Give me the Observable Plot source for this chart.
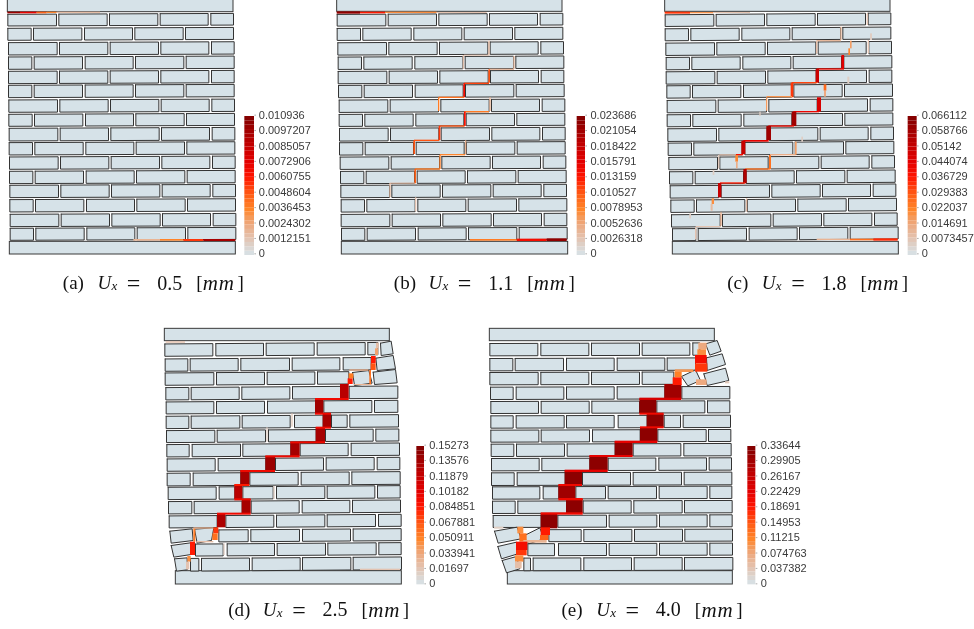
<!DOCTYPE html>
<html><head><meta charset="utf-8">
<script src="https://cdn.jsdelivr.net/npm/d3@7"></script>
<script src="https://cdn.jsdelivr.net/npm/@observablehq/plot@0.6"></script>
<style>html,body{margin:0;background:#fff}svg{display:block;filter:blur(.3px)}</style>
</head><body><div id="chart"></div>
<script>
// All wall coordinates are read in 3x crop units, relative to each panel's crop origin.
const panelNames = ["a","b","c","d","e"];
const origins = [[0,0],[330,0],[660,0],[150,320],[480,320]];
const slabs = [
  [[22,699,-3,35],[28,706,724,762]],
  [[20,696,-3,34],[34,713,724,762]],
  [[14,690,-3,34],[37,715,724,762]],
  [[43,718,25,62],[76,754,752,792]],
  [[28,703,25,62],[82,757,752,792]]
];
const topsABC = [40,82,125,168,211,253,297,340,382,425,468,511,553,596,640,682];
const botsABC = [75,118,162,205,248,290,334,376,420,462,505,548,590,633,677,718];
const topsDE = [68,113,155,199,242,285,328,370,413,456,498,541,584,627,669,712];
const botsDE = [105,150,192,236,278,322,364,407,450,494,535,578,620,663,705,750];
const oddJoints = [0,146,153,298,305,450,457,601,609,677];
const evenJoints = [0,70,77,222,230,374,381,526,533,677];
const leftA = [22,22,24,24,24,24,25,25,26,26,27,27,28,28,29,29];
const leftB = [20,20,22,23,23,24,26,26,27,27,29,30,31,32,32,33];
const leftC = [14,14,16,17,17,19,20,20,22,23,25,27,29,31,33,36];
const tilts = [-0.004,-0.005,-0.008,-0.007,-0.003];
const bricksD = [
  [43,187,196,339,347,491,500,644,652,682],
  [44,112,119,263,271,417,425,568,578,662],
  [44,190,198,342,350,493,501,595],
  [46,115,122,266,274,418,426,570,596,742],
  [47,190,198,342,351,495,520,664,672,742],
  [47,115,122,268,275,419,432,518,543,590,598,744],
  [48,193,200,345,354,497,525,668,676,745],
  [49,116,125,270,277,421,449,593,602,747],
  [50,194,203,346,375,519,527,671,680,748],
  [50,119,128,271,298,443,452,596,604,749],
  [53,197,206,253,277,368,378,523,530,673,681,749],
  [54,124,131,275,302,446,455,598,606,750],
  [56,200,226,370,378,523,530,675,684,752],
  [205,293,301,447,456,600,608,752],
  [135,218,230,372,380,525,532,677,685,752],
  [120,145,153,297,305,449,456,601,608,753]
];
const bricksE = [
  [28,172,181,325,333,477,485,628,637,658],
  [28,97,104,249,258,401,410,553,560,645],
  [28,173,181,325,333,477,485,580],
  [30,98,107,250,258,401,410,553,604,748],
  [31,174,182,326,334,477,529,673,681,748],
  [31,98,107,251,258,401,413,500,551,600,608,750],
  [31,175,182,327,336,479,532,677,684,751],
  [32,100,108,252,260,404,458,601,610,752],
  [33,176,184,328,383,526,535,678,686,753],
  [33,101,110,254,306,450,458,603,611,754],
  [36,178,188,235,286,375,383,528,536,680,688,754],
  [36,104,112,258,308,452,460,605,612,755],
  [38,182,232,378,386,529,537,680,688,755],
  [205,302,310,454,462,606,613,756],
  [142,222,234,378,386,529,537,680,688,756],
  [130,150,158,301,310,453,461,605,612,757]
];
const rotatedD = [
  [[690,68],[722,62],[728,100],[692,105]],
  [[676,113],[728,105],[735,145],[680,150]],
  [[606,156],[655,150],[665,188],[612,195]],
  [[668,155],[735,147],[740,187],[672,192]],
  [[58,632],[125,625],[128,660],[62,668]],
  [[132,626],[190,622],[183,660],[140,668]],
  [[62,675],[120,667],[122,702],[70,710]],
  [[72,715],[110,712],[110,748],[78,752]]
];
const rotatedE = [
  [[675,70],[710,60],[722,92],[688,104]],
  [[678,112],[725,100],[735,132],[680,150]],
  [[603,168],[645,148],[660,180],[622,196]],
  [[670,160],[735,143],[745,180],[680,195]],
  [[42,632],[110,620],[122,655],[53,668]],
  [[128,647],[178,622],[190,655],[145,670]],
  [[52,678],[108,665],[112,700],[63,715]],
  [[65,720],[108,708],[118,745],[78,757]]
];
// cracks: x1, x2, y1, y2, damage fraction
const cracksA = [
  [22,60,35,40,.92],[60,110,35,40,.65],[110,140,35,40,.42],[140,170,35,39,.32],[170,300,35,39,.14],
  [400,480,717,722,.18],[480,550,717,722,.33],[550,610,717,723,.5],[610,706,717,723,.88]
];
const cracksB = [
  [20,90,34,41,.95],[90,165,35,40,.55],[165,320,35,39,.3],[320,470,36,39,.12],
  [420,560,717,722,.35],[560,650,716,723,.6],[650,710,715,723,.95],
  [550,554,168,207,.15],[477,552,206,210,.15],[475,480,208,248,.45],[402,477,248,252,.48],[400,405,250,292,.6],
  [326,402,290,294,.38],[324,328,292,333,.35],[403,477,333,337,.36],[478,482,292,333,.18],
  [402,407,335,378,.58],[328,404,376,380,.45],[326,331,378,420,.5],[252,328,419,423,.45],[250,255,421,462,.45],
  [330,405,462,466,.32],[405,409,421,464,.18],[328,332,464,507,.35],[255,330,505,509,.35],[253,258,507,550,.42],
  [180,255,548,551,.15],[178,182,549,592,.15],[255,259,592,634,.12],[475,479,122,165,.15],[402,477,164,167,.12],[398,402,165,207,.12]
];
const cracksC = [
  [14,90,35,41,.5],[90,160,36,40,.28],[160,270,36,39,.12],
  [470,570,716,720,.18],[570,640,716,721,.38],[640,713,715,722,.52],
  [541,545,80,120,.16],[470,543,120,124,.16],[468,472,122,160,.14],
  [544,552,165,207,.68],[470,552,205,209,.62],[467,477,207,248,.76],[395,472,246,250,.48],[392,400,248,292,.5],
  [320,396,288,292,.28],[318,322,292,332,.26],
  [491,499,253,272,.4],[492,498,272,290,.22],[471,483,292,335,.72],[400,477,333,337,.64],[395,409,335,378,.9],
  [325,402,376,380,.62],[319,333,378,420,.9],[250,326,420,425,.66],[244,256,422,462,.78],[228,250,462,466,.6],[178,228,463,466,.14],
  [226,234,465,485,.32],[228,233,485,505,.2],[174,178,465,505,.1],
  [255,330,505,509,.38],[327,333,465,507,.38],[330,407,462,466,.2],[405,410,425,464,.25],
  [250,260,507,550,.85],[180,255,547,551,.55],[174,184,549,592,.78],
  [155,162,595,612,.3],[152,158,612,632,.15],[181,185,637,677,.2],[107,183,678,681,.12],[105,109,682,718,.12],[258,262,595,635,.14],
  [620,624,40,75,.12],[630,636,100,120,.08],[623,627,120,160,.12],[570,575,122,145,.25],[565,570,145,165,.32],
  [562,568,230,250,.08],[298,302,335,348,.08],[158,163,510,525,.08],[88,93,640,655,.08],[424,429,410,425,.08]
];
const cracksD = [
  [570,596,192,236,.82],[495,520,236,280,.9],[518,543,282,322,.88],[497,525,322,366,.88],
  [421,449,366,408,.88],[346,375,408,452,.92],[271,298,452,494,.88],[253,277,494,537,.82],[275,302,537,580,.88],[201,226,580,622,.86],
  [495,596,234,240,.62],[495,543,278,284,.62],[497,543,320,326,.62],[421,525,364,370,.62],[346,449,406,412,.62],
  [271,375,450,456,.62],[253,298,492,498,.55],[253,302,535,541,.62],[201,302,578,584,.62],
  [596,610,160,175,.35],[593,608,175,192,.55],[598,655,148,152,.2],[658,663,150,192,.38],[612,665,192,195,.18],
  [663,677,108,130,.55],[662,677,130,150,.45],[678,686,68,85,.14],[675,684,85,105,.24],
  [190,205,622,640,.5],[187,203,640,660,.38],[130,136,625,665,.35],[130,190,622,626,.18],[140,190,663,667,.14],
  [120,135,665,705,.55],[112,122,708,725,.3],[108,118,725,748,.12],
  [424,428,280,320,.1],[349,353,322,365,.08],[370,374,498,537,.08],[220,224,670,705,.08],[47,105,64,68,.14],[630,750,746,750,.12]
];
const cracksE = [
  [553,604,192,236,.9],[478,529,236,280,.96],[500,551,282,322,.96],[480,532,322,365,.96],
  [404,458,365,408,.96],[328,383,408,452,.96],[254,306,452,495,.96],[235,286,495,535,.9],[258,308,537,580,.96],[182,232,580,625,.96],
  [478,604,233,240,.72],[478,551,278,284,.62],[480,551,319,325,.62],[404,532,362,369,.66],[328,458,405,411,.66],
  [254,383,449,456,.66],[235,306,492,498,.62],[235,308,534,541,.62],[182,308,577,584,.62],
  [584,605,150,172,.34],[578,605,172,195,.55],[585,640,148,156,.28],[645,680,105,130,.6],[645,682,130,155,.5],[655,680,68,88,.22],[652,678,88,105,.3],
  [648,680,178,195,.22],[735,748,184,190,.1],
  [182,210,622,645,.55],[180,205,645,660,.42],[112,130,620,640,.3],[118,140,640,665,.38],[130,200,660,668,.18],
  [108,142,665,690,.6],[108,140,690,706,.5],[105,130,706,725,.3],[105,125,725,745,.14],[42,70,620,626,.08]
];
const maxLabels = [
 ["0.010936","0.0097207","0.0085057","0.0072906","0.0060755","0.0048604","0.0036453","0.0024302","0.0012151","0"],
 ["0.023686","0.021054","0.018422","0.015791","0.013159","0.010527","0.0078953","0.0052636","0.0026318","0"],
 ["0.066112","0.058766","0.05142","0.044074","0.036729","0.029383","0.022037","0.014691","0.0073457","0"],
 ["0.15273","0.13576","0.11879","0.10182","0.084851","0.067881","0.050911","0.033941","0.01697","0"],
 ["0.33644","0.29905","0.26167","0.22429","0.18691","0.14953","0.11215","0.074763","0.037382","0"]
];
const barX = [[733,762],[740,765],[743,770],[799,822],[802,826]];
const labelX = [775,780,784,836,841];
const barY = [[348,765],[348,765],[348,765],[378,793],[378,793]];
const labelY = [[344,760],[344,760],[344,760],[374,790],[374,790]];
const captionX = [187,190,200,233,243];
const captionY = [848,848,848,868,868];
const captionValues = ["0.5","1.1","1.8","2.5","4.0"];
const colorStops = [0,.03,.11,.22,.33,.44,.56,.67,.78,.9,1];
const colorHex = ["#d6e2e8","#d9dcdc","#e2c6b6","#eda97f","#ff8428","#ff5a14","#ff1400","#e40000","#c60000","#a00000","#800000"];
const brickFill = "#d6e2e8";

const px = (i,x)=>origins[i][0]+x/3, py=(i,y)=>origins[i][1]+y/3;
const polys=[], rects=[];
let id=0;
function addPoly(i,pts){const k=id++;[...pts,pts[0]].forEach(p=>polys.push({k,x:px(i,p[0]),y:py(i,p[1])}));}
function addBrick(i,a,b,t,u){const piv=380,s=tilts[i];const f=x=>s*(x-piv);addPoly(i,[[a,t+f(a)],[b,t+f(b)],[b,u+f(b)],[a,u+f(a)]]);}
[leftA,leftB,leftC].forEach((L,i)=>L.forEach((l,c)=>{const J=c%2?evenJoints:oddJoints;
  for(let j=0;j<J.length;j+=2)addBrick(i,l+J[j],l+J[j+1],topsABC[c],botsABC[c]);}));
[bricksD,bricksE].forEach((B,n)=>B.forEach((row,c)=>{for(let j=0;j<row.length;j+=2)addBrick(3+n,row[j],row[j+1],topsDE[c],botsDE[c]);}));
[rotatedD,rotatedE].forEach((R,n)=>R.forEach(p=>addPoly(3+n,p)));
const slabRects=[];
slabs.forEach((S,i)=>S.forEach(s=>slabRects.push({x1:px(i,s[0]),x2:px(i,s[1]),y1:py(i,s[2]),y2:py(i,s[3])})));
[cracksA,cracksB,cracksC,cracksD,cracksE].forEach((C,i)=>C.forEach(r=>rects.push({x1:px(i,r[0]),x2:px(i,r[1]),y1:py(i,r[2]),y2:py(i,r[3]),t:r[4]})));
const bands=[],labels=[],ticks=[];
barX.forEach((bx,i)=>{const n=32;const [y0,y1]=barY[i];
  for(let b=0;b<n;b++)bands.push({x1:px(i,bx[0]),x2:px(i,bx[1]),y1:py(i,y1+(y0-y1)*b/n),y2:py(i,y1+(y0-y1)*(b+1)/n),t:(b+.5)/n});
  maxLabels[i].forEach((s,k)=>{const f=k/9;labels.push({s,x:px(i,labelX[i]),y:py(i,labelY[i][0]+(labelY[i][1]-labelY[i][0])*f)});
    ticks.push({x1:px(i,bx[1]+1),x2:px(i,bx[1]+6),y:py(i,labelY[i][0]+(labelY[i][1]-labelY[i][0])*f)});});
});
const capRoman=[],capValue=[],capEq=[],capItal=[],capMm=[],capSub=[];
panelNames.forEach((n,i)=>{const X=d=>px(i,captionX[i]+d),Y=py(i,captionY[i]);
  capRoman.push({s:`(${n})`,x:X(0),y:Y},{s:"[",x:X(400),y:Y},{s:"]",x:X(524),y:Y});
  capValue.push({s:captionValues[i],x:X(283),y:Y});
  capEq.push({s:"=",x:X(192),y:Y});
  capItal.push({s:"U",x:X(104),y:Y});
  capMm.push({s:"m",x:X(420),y:Y},{s:"m",x:X(468),y:Y});
  capSub.push({s:"x",x:X(146),y:Y+3});
});
const serif="'Liberation Serif','DejaVu Serif',serif";
const capText=(data,fontSize,fontStyle)=>Plot.text(data,{x:"x",y:"y",text:"s",textAnchor:"start",fontSize,fontStyle,fill:"#111",fontFamily:serif});
const chart=Plot.plot({
  width:974,height:629,margin:0,
  x:{domain:[0,974],range:[0,974],axis:null},
  y:{domain:[0,629],range:[0,629],axis:null},
  color:{type:"linear",domain:colorStops,range:colorHex},
  marks:[
    Plot.rect(slabRects,{x1:"x1",x2:"x2",y1:"y1",y2:"y2",fill:brickFill,stroke:"#3a3a3a",strokeWidth:1}),
    Plot.line(polys,{x:"x",y:"y",z:"k",fill:brickFill,stroke:"#333",strokeWidth:1,curve:"linear"}),
    Plot.rect(rects,{x1:"x1",x2:"x2",y1:"y1",y2:"y2",fill:"t"}),
    Plot.rect(bands,{x1:"x1",x2:"x2",y1:"y1",y2:"y2",fill:"t"}),
    Plot.ruleY(ticks,{y:"y",x1:"x1",x2:"x2",stroke:"#999",strokeWidth:.8}),
    Plot.text(labels,{x:"x",y:"y",text:"s",textAnchor:"start",fontSize:11,fill:"#3a3a3a",fontFamily:"'Liberation Sans',Arial,sans-serif"}),
    capText(capRoman,19,"normal"),
    capText(capValue,20,"normal"),
    capText(capEq,24,"normal"),
    capText(capItal,19,"italic"),
    capText(capMm,21,"italic"),
    capText(capSub,13,"italic")
  ]
});
document.getElementById("chart").append(chart);
</script></body></html>
